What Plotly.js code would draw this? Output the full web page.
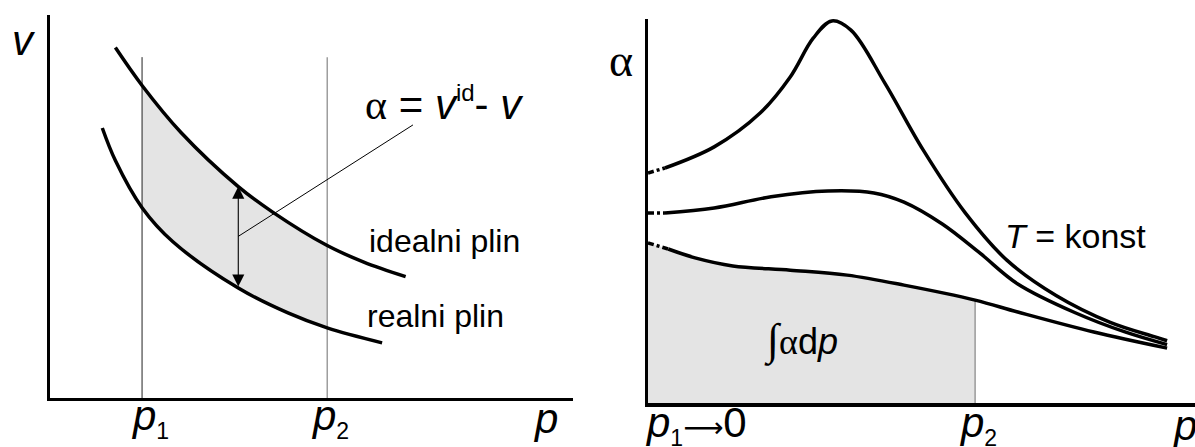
<!DOCTYPE html>
<html>
<head>
<meta charset="utf-8">
<script src="https://cdn.plot.ly/plotly-3.0.1.min.js"></script>
<style>
  html, body { margin: 0; padding: 0; background: #fff; }
  #chart { width: 1195px; height: 447px; }
</style>
</head>
<body>
<div id="chart"></div>
<script>
// left panel: specific volume v against pressure p
const idealP = [1.25, 1.76, 2.5, 3.6, 4.25, 5.3, 6.0, 6.8]
const idealV = [9.15, 8.16, 6.94, 5.52, 4.86, 3.98, 3.55, 3.17]
const realP = [1.0, 1.25, 1.76, 2.35, 3.6, 4.55, 5.3, 6.35]
const realV = [7.05, 6.2, 4.97, 4.08, 2.87, 2.22, 1.83, 1.44]
const p1 = 1.76
const p2 = 5.3
const limitTop = 8.9
const arrowP = 3.6
const leaderP = [3.6, 6.94]
const leaderV = [4.22, 7.13]

// right panel: residual volume alpha against p, three isotherms
const topP = [0.31, 1.21, 2.05, 2.6, 3.02, 3.36, 3.71, 4.33, 5.03, 5.8, 6.56, 7.46, 8.45, 9.27, 9.49]
const topA = [6.12, 6.67, 7.55, 8.49, 9.5, 9.95, 9.71, 8.33, 6.59, 4.95, 3.72, 2.8, 2.1, 1.72, 1.62]
const midP = [0.31, 1.21, 2.25, 3.29, 4.13, 4.68, 5.38, 6.07, 6.76, 7.81, 8.72, 9.49]
const midA = [4.95, 5.08, 5.37, 5.52, 5.47, 5.23, 4.66, 3.9, 3.1, 2.35, 1.85, 1.52]
const lowP = [0.37, 0.86, 1.55, 2.6, 3.64, 4.68, 5.98, 6.76, 8.15, 9.49]
const lowA = [4.01, 3.78, 3.57, 3.46, 3.33, 3.07, 2.68, 2.37, 1.85, 1.43]
// extrapolated parts towards p -> 0
const topDotP = [0.0, 0.31], topDotA = [5.99, 6.12]
const midDotP = [0.0, 0.31], midDotA = [4.95, 4.95]
const lowDotP = [0.0, 0.37], lowDotA = [4.17, 4.01]
const p2Right = 5.98

const black = '#000'
const shade = '#e4e4e4'

function between(xs, ys, a, b) {
    const x = [], y = []
    xs.forEach((v, i) => { if (v >= a - 1e-9 && v <= b + 1e-9) { x.push(v); y.push(ys[i]) } })
    return {x, y}
}

const realIn = between(realP, realV, p1, p2)
const idealIn = between(idealP, idealV, p1, p2)
const lowFill = between(lowDotP.slice(0, 1).concat(lowP), lowDotA.slice(0, 1).concat(lowA), 0, p2Right)

const line = (w, c) => ({color: c, width: w, shape: 'spline'})
const dotted = {color: black, width: 3.5, dash: '6px,3px,3px,3px'}

const data = [
    // shaded band between the curves, p1..p2
    {x: realIn.x, y: realIn.y, type: 'scatter', mode: 'lines', line: {width: 0, shape: 'spline'}, hoverinfo: 'skip'},
    {x: idealIn.x, y: idealIn.y, type: 'scatter', mode: 'lines', line: {width: 0, shape: 'spline'},
        fill: 'tonexty', fillcolor: shade, hoverinfo: 'skip'},
    {x: [p1, p1], y: [0, limitTop], type: 'scatter', mode: 'lines', line: {color: '#222', width: 1}},
    {x: [p2, p2], y: [0, limitTop], type: 'scatter', mode: 'lines', line: {color: '#858585', width: 1.2}},
    {x: idealP, y: idealV, type: 'scatter', mode: 'lines', line: line(3.5, black)},
    {x: realP, y: realV, type: 'scatter', mode: 'lines', line: line(3.5, black)},
    {x: leaderP, y: leaderV, type: 'scatter', mode: 'lines', line: {color: black, width: 1}},

    // right panel
    {x: lowFill.x, y: lowFill.y, xaxis: 'x2', yaxis: 'y2', type: 'scatter', mode: 'lines',
        line: {width: 0, shape: 'spline'}, fill: 'tozeroy', fillcolor: shade, hoverinfo: 'skip'},
    {x: [p2Right, p2Right], y: [0, lowA[lowP.indexOf(p2Right)]], xaxis: 'x2', yaxis: 'y2', type: 'scatter',
        mode: 'lines', line: {color: '#858585', width: 1.2}},
    {x: topP, y: topA, xaxis: 'x2', yaxis: 'y2', type: 'scatter', mode: 'lines', line: line(3.5, black)},
    {x: midP, y: midA, xaxis: 'x2', yaxis: 'y2', type: 'scatter', mode: 'lines', line: line(3.5, black)},
    {x: lowP, y: lowA, xaxis: 'x2', yaxis: 'y2', type: 'scatter', mode: 'lines', line: line(3.5, black)},
    {x: topDotP, y: topDotA, xaxis: 'x2', yaxis: 'y2', type: 'scatter', mode: 'lines', line: dotted},
    {x: midDotP, y: midDotA, xaxis: 'x2', yaxis: 'y2', type: 'scatter', mode: 'lines', line: dotted},
    {x: lowDotP, y: lowDotA, xaxis: 'x2', yaxis: 'y2', type: 'scatter', mode: 'lines', line: dotted},
]

const axis = (domain, lw) => ({
    domain: domain, range: [0, 10], showgrid: false, zeroline: false, showticklabels: false,
    ticks: '', showline: true, linecolor: black, linewidth: lw, fixedrange: true
})

const sans = 'Liberation Sans, Arial, sans-serif'
const serif = 'Liberation Serif, Times New Roman, serif'
const W = 1195, H = 447
const txt = (px, py, text, size, extra) => Object.assign({
    xref: 'paper', yref: 'paper', x: px / W, y: 1 - py / H, text: text, showarrow: false,
    xanchor: 'center', yanchor: 'middle', font: {family: sans, size: size, color: black}
}, extra || {})

const sub = s => '<sub><span style="font-size:23px">' + s + '</span></sub>'
const alphaSerif = '<span style="font-family:\'Liberation Serif\'">α</span>'
const longArrow = '<span style="font-family:\'DejaVu Sans\';font-size:28px">⟶</span>'

const layout = {
    width: W, height: H,
    margin: {l: 0, r: 0, t: 0, b: 0, pad: 0},
    paper_bgcolor: '#fff', plot_bgcolor: 'rgba(0,0,0,0)',
    showlegend: false,
    xaxis: axis([50 / W, 573 / W], 3),
    yaxis: axis([(H - 398) / H, (H - 15) / H], 3),
    xaxis2: Object.assign(axis([648 / W, 1], 3.5), {anchor: 'y2'}),
    yaxis2: Object.assign(axis([(H - 403) / H, (H - 19) / H], 3.5), {anchor: 'x2'}),
    annotations: [
        // double arrow alpha between the curves
        {x: arrowP, y: idealV[idealP.indexOf(arrowP)], ax: arrowP, ay: realV[realP.indexOf(arrowP)],
            xref: 'x', yref: 'y', axref: 'x', ayref: 'y', text: '', showarrow: true,
            arrowside: 'end+start', arrowhead: 2, arrowsize: 2.2, arrowwidth: 1.1, arrowcolor: black,
            standoff: 0, startstandoff: 0},
        txt(24, 40, '<i>v</i>', 42),
        txt(150, 418, '<i>p</i>' + sub('1'), 42),
        txt(330, 418, '<i>p</i>' + sub('2'), 42),
        txt(545, 418, '<i>p</i>', 42),
        txt(445, 103, alphaSerif + ' = <i>v</i><sup><span style="font-size:24px">id</span></sup>- <i>v</i>', 42),
        txt(445, 241, 'idealni plin', 32),
        txt(435, 316, 'realni plin', 32),
        txt(621, 60, 'α', 46, {font: {family: serif, size: 46, color: black}}),
        txt(643, 425, '<i>p</i>' + sub('1') + longArrow + '0', 42, {xanchor: 'left'}),
        txt(978, 425, '<i>p</i>' + sub('2'), 42),
        txt(1170, 425, '<i>p</i>', 42, {xanchor: 'left'}),
        txt(1075, 236, '<i>T</i> = konst', 34),
        txt(801, 340, '<span style="font-family:\'Liberation Serif\';font-size:44px">∫</span>' + alphaSerif + 'd<i>p</i>', 36),
    ]
}

Plotly.newPlot('chart', data, layout, {displayModeBar: false, staticPlot: true})
</script>
</body>
</html>
